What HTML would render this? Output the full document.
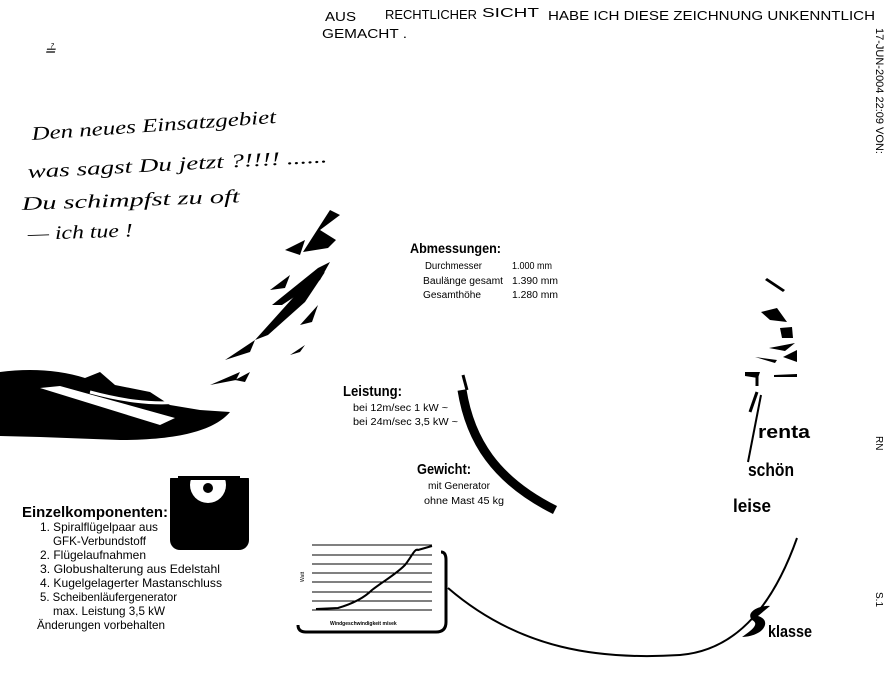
<!DOCTYPE html>
<html><head><meta charset="utf-8"><style>
html,body{margin:0;padding:0;background:#fff;}
svg{display:block;}
text{font-family:"Liberation Sans",sans-serif;fill:#000;}
.h{font-size:13px;}
.hw{font-family:"Liberation Serif",serif;font-style:italic;font-size:19px;}
.b{font-weight:bold;}
</style></head><body>
<svg width="893" height="673" viewBox="0 0 893 673" xmlns="http://www.w3.org/2000/svg">
<rect width="893" height="673" fill="#fff"/>
<!-- header -->
<text class="h" x="325" y="21" textLength="31" lengthAdjust="spacingAndGlyphs">AUS</text>
<text class="h" x="385" y="19" textLength="92" lengthAdjust="spacingAndGlyphs">RECHTLICHER</text>
<text class="h" x="482" y="17" textLength="57" lengthAdjust="spacingAndGlyphs">SICHT</text>
<text class="h" x="548" y="20" textLength="327" lengthAdjust="spacingAndGlyphs">HABE ICH DIESE ZEICHNUNG UNKENNTLICH</text>
<text class="h" x="322" y="38" textLength="85" lengthAdjust="spacingAndGlyphs">GEMACHT .</text>
<!-- fax side text -->
<text style="font-size:11px" transform="translate(876,28) rotate(90)">17-JUN-2004 22:09 VON:</text>
<text style="font-size:10px" transform="translate(876,436) rotate(90)">RN</text>
<text style="font-size:10px" transform="translate(876,592) rotate(90)">S.1</text>
<!-- handwriting -->
<text class="hw" x="44" y="55" style="font-size:14px">≟</text>
<text class="hw" x="32" y="140" transform="rotate(-4 32 140)" textLength="245" lengthAdjust="spacingAndGlyphs">Den neues Einsatzgebiet</text>
<text class="hw" x="28" y="178" transform="rotate(-3 28 178)" textLength="300" lengthAdjust="spacingAndGlyphs">was sagst Du jetzt ?!!!! ......</text>
<text class="hw" x="22" y="210" transform="rotate(-2 22 210)" textLength="218" lengthAdjust="spacingAndGlyphs">Du schimpfst zu oft</text>
<text class="hw" x="28" y="240" transform="rotate(-2 28 240)" textLength="105" lengthAdjust="spacingAndGlyphs">— ich tue !</text>
<!-- big black swoosh -->
<path d="M0,372 C30,368 60,370 85,378 L100,372 L115,385 L150,392 L170,405 L200,410 L230,412 C215,430 180,440 120,440 L40,437 L0,436 Z" fill="#000"/>
<path d="M40,388 L160,425 L175,418 L60,386 Z" fill="#fff"/>
<path d="M90,392 C120,400 150,405 180,402" stroke="#fff" stroke-width="3" fill="none"/>
<g fill="#000">
<path d="M303,252 L330,210 L340,215 L320,230 L336,240 L328,248 Z"/>
<path d="M272,305 L318,268 L330,262 L320,280 L282,305 Z"/>
<path d="M255,340 L300,290 L325,272 L305,302 L268,335 Z"/>
<path d="M285,250 L305,240 L300,255 Z"/>
<path d="M265,330 L280,316 L276,328 Z"/>
<path d="M225,360 L255,340 L250,352 Z"/>
<path d="M300,325 L318,305 L312,322 Z"/>
<path d="M210,385 L240,372 L236,380 Z"/>
<path d="M235,380 L250,372 L245,382 Z"/>
<path d="M290,355 L305,345 L300,352 Z"/>
<path d="M270,290 L290,275 L285,288 Z"/>
</g>
<!-- right fragments -->
<g fill="#000">
<path d="M767,278 L785,290 L783,292 L765,280 Z"/>
<path d="M761,312 L777,308 L787,322 L770,320 Z"/>
<path d="M780,328 L792,327 L793,338 L782,338 Z"/>
<path d="M769,348 L795,343 L785,351 Z"/>
<path d="M755,357 L777,360 L775,363 Z"/>
<path d="M783,357 L797,350 L797,362 Z"/>
<path d="M745,372 L760,372 L758,378 L745,376 Z"/>
<path d="M774,375 L797,374 L797,377 L774,377 Z"/>
</g>
<path d="M757,375 L757,386" stroke="#000" stroke-width="3"/>
<path d="M757,392 L750,412" stroke="#000" stroke-width="3"/>
<path d="M761,395 L748,462" stroke="#000" stroke-width="2" fill="none"/>
<!-- arc left thick -->
<path d="M462,390 C470,440 495,480 555,510" stroke="#000" stroke-width="9" fill="none"/>
<path d="M463,375 L467,390" stroke="#000" stroke-width="3"/>
<!-- bottom arc -->
<path d="M448,588 C520,650 600,660 680,655 C740,650 775,600 797,538" stroke="#000" stroke-width="2" fill="none"/>
<!-- text blocks -->
<text class="b" x="410" y="253" style="font-size:14px" textLength="91" lengthAdjust="spacingAndGlyphs">Abmessungen:</text>
<g style="font-size:10px">
<text x="425" y="269" textLength="57" lengthAdjust="spacingAndGlyphs">Durchmesser</text><text x="512" y="269" textLength="40" lengthAdjust="spacingAndGlyphs">1.000 mm</text>
<text x="423" y="284" textLength="80" lengthAdjust="spacingAndGlyphs">Baulänge gesamt</text><text x="512" y="284" textLength="46" lengthAdjust="spacingAndGlyphs">1.390 mm</text>
<text x="423" y="298" textLength="58" lengthAdjust="spacingAndGlyphs">Gesamthöhe</text><text x="512" y="298" textLength="46" lengthAdjust="spacingAndGlyphs">1.280 mm</text>
</g>
<text class="b" x="343" y="396" style="font-size:15px" textLength="59" lengthAdjust="spacingAndGlyphs">Leistung:</text>
<text x="353" y="411" style="font-size:10px" textLength="95" lengthAdjust="spacingAndGlyphs">bei 12m/sec 1 kW ~</text>
<text x="353" y="425" style="font-size:10px" textLength="105" lengthAdjust="spacingAndGlyphs">bei 24m/sec 3,5 kW ~</text>
<text class="b" x="417" y="474" style="font-size:15px" textLength="54" lengthAdjust="spacingAndGlyphs">Gewicht:</text>
<text x="428" y="489" style="font-size:10px" textLength="62" lengthAdjust="spacingAndGlyphs">mit Generator</text>
<text x="424" y="504" style="font-size:10px" textLength="80" lengthAdjust="spacingAndGlyphs">ohne Mast 45 kg</text>
<text class="b" x="758" y="438" style="font-size:18px" textLength="52" lengthAdjust="spacingAndGlyphs">renta</text>
<text class="b" x="748" y="476" style="font-size:18px" textLength="46" lengthAdjust="spacingAndGlyphs">schön</text>
<text class="b" x="733" y="512" style="font-size:18px" textLength="38" lengthAdjust="spacingAndGlyphs">leise</text>
<path d="M752,620 C745,612 760,605 770,606 L758,616 C772,620 765,636 742,637 C752,630 760,624 752,620 Z" fill="#000"/>
<text class="b" x="768" y="637" style="font-size:17px" textLength="44" lengthAdjust="spacingAndGlyphs">klasse</text>
<!-- Einzelkomponenten -->
<text class="b" x="22" y="517" style="font-size:15px" textLength="146" lengthAdjust="spacingAndGlyphs">Einzelkomponenten:</text>
<g style="font-size:12px">
<text x="40" y="531" textLength="118" lengthAdjust="spacingAndGlyphs">1. Spiralflügelpaar aus</text>
<text x="53" y="545" textLength="93" lengthAdjust="spacingAndGlyphs">GFK-Verbundstoff</text>
<text x="40" y="559" textLength="106" lengthAdjust="spacingAndGlyphs">2. Flügelaufnahmen</text>
<text x="40" y="573" textLength="180" lengthAdjust="spacingAndGlyphs">3. Globushalterung aus Edelstahl</text>
<text x="40" y="587" textLength="182" lengthAdjust="spacingAndGlyphs">4. Kugelgelagerter Mastanschluss</text>
<text x="40" y="601" textLength="137" lengthAdjust="spacingAndGlyphs">5. Scheibenläufergenerator</text>
<text x="53" y="615" textLength="112" lengthAdjust="spacingAndGlyphs">max. Leistung 3,5 kW</text>
<text x="37" y="629" textLength="128" lengthAdjust="spacingAndGlyphs">Änderungen vorbehalten</text>
</g>
<!-- photo -->
<rect x="170" y="470" width="79" height="80" rx="10" fill="#000"/>
<circle cx="208" cy="485" r="18" fill="#fff"/>
<circle cx="208" cy="488" r="5" fill="#000"/>
<rect x="170" y="470" width="79" height="8" fill="#fff"/>
<path d="M178,478 L240,478" stroke="#000" stroke-width="4"/>
<!-- chart -->
<path d="M441,552 Q446,552 446,560 L446,622 Q446,632 436,632 L306,632 Q298,632 298,625" stroke="#000" stroke-width="3" fill="none"/>
<g stroke="#000" stroke-width="1">
<line x1="312" y1="545" x2="432" y2="545"/>
<line x1="312" y1="555" x2="432" y2="555"/>
<line x1="312" y1="564" x2="432" y2="564"/>
<line x1="312" y1="573" x2="432" y2="573"/>
<line x1="312" y1="582" x2="432" y2="582"/>
<line x1="312" y1="592" x2="432" y2="592"/>
<line x1="312" y1="601" x2="432" y2="601"/>
<line x1="312" y1="610" x2="432" y2="610"/>
</g>
<path d="M316,609 L338,608 C355,603 365,597 372,590 C385,580 395,575 405,565 C412,556 415,548 418,550 L432,546" stroke="#000" stroke-width="2" fill="none"/>
<text x="298" y="580" style="font-size:5px" transform="rotate(-90 302 578)">Watt</text>
<text x="330" y="625" style="font-size:5px" class="b">Windgeschwindigkeit m/sek</text>
</svg>
</body></html>
